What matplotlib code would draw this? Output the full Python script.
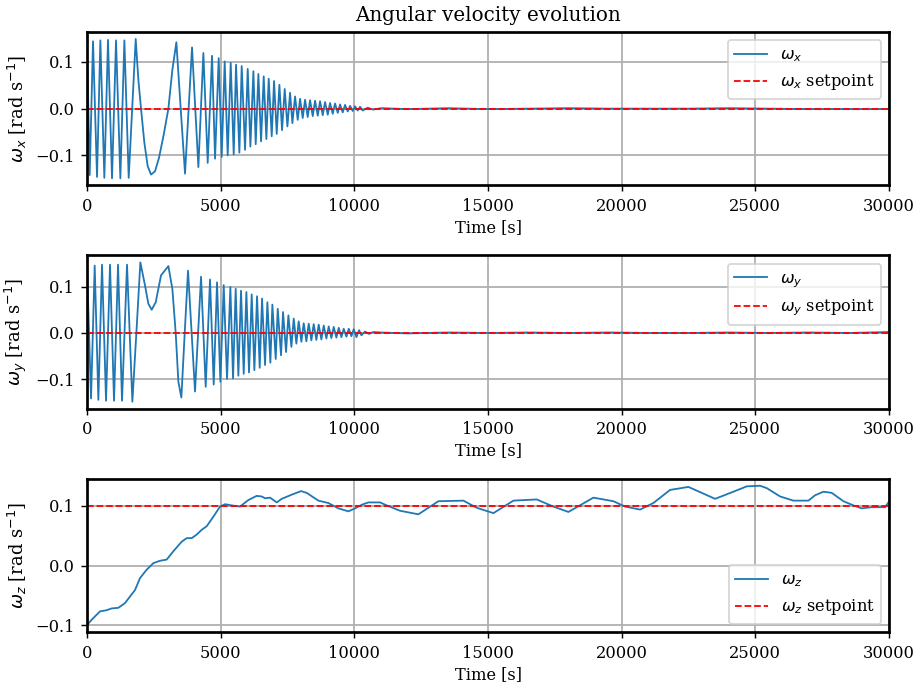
#!/usr/bin/env python3

import matplotlib
matplotlib.use("Agg")
import matplotlib.pyplot as plt

plt.rcParams['font.family'] = ['DejaVu Serif']
plt.rcParams['font.size'] = 9

# omega_x (peaks / troughs / a few shape points)
wx_t = [0, 100, 224, 374, 499, 648, 785, 935, 1085, 1247, 1397, 1559, 1821,
        1920, 2020, 2145, 2269, 2394, 2544, 2693, 2868, 3043, 3192, 3342,
        3504, 3666, 3928, 4165, 4352, 4514, 4676, 4789, 4925, 5038, 5150,
        5262, 5375, 5487, 5574, 5699, 5786, 5911, 6011, 6111, 6223, 6310,
        6410, 6510, 6609, 6709, 6796, 6909, 6996, 7096, 7196, 7295, 7395,
        7495, 7595, 7682, 7782, 7881, 7969, 8068, 8156, 8255, 8343, 8443,
        8530, 8630, 8717, 8817, 8904, 9004, 9091, 9191, 9278, 9378, 9465,
        9565, 9652, 9752, 9839, 9939, 10026, 10126, 10213, 10313, 10500,
        10700, 11000, 12000, 13500, 15000, 16500, 18000, 19500, 21000,
        22500, 24000, 25500, 27000, 28500, 30000]
wx_v = [0.140, -0.142, 0.144, -0.146, 0.146, -0.148, 0.147, -0.149, 0.146,
        -0.149, 0.146, -0.148, 0.149,
        0.062, 0.0, -0.073, -0.123, -0.141, -0.134, -0.105, -0.056, 0.0,
        0.083, 0.142, 0.0, -0.139, 0.131, -0.125, 0.119, -0.116, 0.113,
        -0.107, 0.108, -0.103, 0.101, -0.100, 0.098, -0.098, 0.094, -0.094,
        0.091, -0.088, 0.085, -0.081, 0.080, -0.076, 0.074, -0.070, 0.069,
        -0.065, 0.064, -0.059, 0.059, -0.054, 0.051, -0.046, 0.042, -0.038,
        0.034, -0.031, 0.026, -0.024, 0.021, -0.020, 0.019, -0.018, 0.018,
        -0.016, 0.017, -0.015, 0.016, -0.014, 0.014, -0.013, 0.012, -0.011,
        0.011, -0.009, 0.009, -0.008, 0.008, -0.006, 0.006, -0.005, 0.005,
        -0.004, 0.004, -0.004, 0.002, -0.002, 0.001, -0.001, 0.001, -0.001,
        0.0, 0.001, 0.0, 0.0, 0.0, 0.001, 0.0, -0.001, -0.001, -0.001]

# omega_y
wy_t = [0, 150, 287, 424, 561, 711, 860, 1010, 1160, 1309, 1496, 1696, 1846,
        1995, 2170, 2294, 2419, 2569, 2768, 3043, 3192, 3317, 3417, 3529,
        3654, 3778, 4040, 4265, 4439, 4601, 4739, 4863, 4988, 5113, 5237,
        5362, 5462, 5561, 5661, 5761, 5861, 5961, 6060, 6160, 6260, 6360,
        6459, 6547, 6659, 6746, 6858, 6933, 7058, 7133, 7257, 7332, 7445,
        7532, 7644, 7732, 7831, 7918, 8018, 8105, 8205, 8292, 8392, 8479,
        8579, 8666, 8766, 8854, 8953, 9041, 9140, 9228, 9327, 9415, 9515,
        9602, 9702, 9789, 9889, 9976, 10076, 10176, 10263, 10400, 10550,
        10700, 11000, 12000, 13500, 15000, 16500, 18000, 19500, 21000,
        22500, 24000, 25500, 27000, 28500, 30000]
wy_v = [0.141, -0.141, 0.145, -0.144, 0.147, -0.146, 0.147, -0.146, 0.147,
        -0.146, 0.147, -0.148, 0.0, 0.152, 0.102, 0.063, 0.050, 0.066, 0.124,
        0.144, 0.095, 0.0, -0.105, -0.139, 0.0, 0.134, -0.126, 0.121, -0.116,
        0.115, -0.111, 0.109, -0.105, 0.103, -0.099, 0.099, -0.098, 0.095,
        -0.092, 0.091, -0.088, 0.088, -0.085, 0.083, -0.080, 0.079, -0.075,
        0.074, -0.069, 0.066, -0.064, 0.061, -0.056, 0.052, -0.048, 0.045,
        -0.041, 0.038, -0.030, 0.031, -0.023, 0.025, -0.019, 0.021, -0.018,
        0.020, -0.016, 0.019, -0.015, 0.018, -0.014, 0.016, -0.012, 0.014,
        -0.011, 0.013, -0.010, 0.011, -0.009, 0.009, -0.008, 0.009, -0.007,
        0.008, -0.009, 0.006, -0.005, 0.003, -0.002, 0.002, 0.001, -0.001,
        0.001, 0.0, 0.001, 0.0, 0.001, 0.0, 0.0, 0.001, 0.0, 0.001, 0.0,
        0.002]

# omega_z
wz_t = [0, 174, 486, 736, 923, 1172, 1422, 1609, 1796, 1983, 2232, 2481,
        2731, 2980, 3230, 3541, 3728, 3916, 4103, 4290, 4477, 4726, 4975,
        5162, 5412, 5723, 6036, 6347, 6534, 6659, 6846, 7095, 7282, 7657,
        8006, 8218, 8654, 9028, 9403, 9777, 10026, 10275, 10525, 10961,
        11210, 11709, 12395, 13143, 14079, 14577, 15201, 15949, 16822,
        17445, 18007, 18942, 19690, 20126, 20688, 21186, 21810, 22496,
        22995, 23494, 24179, 24678, 25177, 25426, 25925, 26424, 26985,
        27234, 27546, 27858, 28294, 28668, 28980, 29355, 29854, 29978]
wz_v = [-0.100, -0.091, -0.077, -0.075, -0.072, -0.071, -0.063, -0.052,
        -0.041, -0.021, -0.007, 0.004, 0.008, 0.010, 0.024, 0.040, 0.046,
        0.046, 0.052, 0.060, 0.066, 0.082, 0.099, 0.103, 0.101, 0.099, 0.110,
        0.117, 0.116, 0.113, 0.114, 0.106, 0.112, 0.119, 0.125, 0.122, 0.109,
        0.105, 0.096, 0.091, 0.096, 0.102, 0.106, 0.106, 0.101, 0.092, 0.086,
        0.108, 0.109, 0.097, 0.088, 0.109, 0.111, 0.099, 0.090, 0.114, 0.108,
        0.099, 0.094, 0.105, 0.127, 0.132, 0.122, 0.112, 0.124, 0.133, 0.134,
        0.130, 0.116, 0.109, 0.109, 0.118, 0.124, 0.122, 0.108, 0.101, 0.096,
        0.098, 0.098, 0.106]

sp_t = [0, 30000]
sp_x = [0.0, 0.0]
sp_y = [0.0, 0.0]
sp_z = [0.1, 0.1]


def main():
    fig, axes = plt.subplots(3, 1, figsize=(917 / 130, 687 / 130), dpi=130)
    fig.subplots_adjust(left=0.0949, right=0.9695, top=0.9534, bottom=0.080,
                        hspace=0.4575)

    series = [('x', wx_t, wx_v, sp_x, 'upper right'),
              ('y', wy_t, wy_v, sp_y, 'upper right'),
              ('z', wz_t, wz_v, sp_z, 'lower right')]

    for ax, (name, t, v, sp, loc) in zip(axes, series):
        ax.plot(t, v, color='#1f77b4', lw=1.0, label=r'$\omega_%s$' % name)
        ax.plot(sp_t, sp, color='red', ls='--', lw=1.0,
                label=r'$\omega_%s$ setpoint' % name)
        ax.set_xlim(0, 30000)
        ax.set_yticks([-0.1, 0.0, 0.1])
        ax.set_xlabel('Time [s]')
        ax.set_ylabel(r'$\omega_%s$ [rad s$^{-1}$]' % name, fontsize=10)
        ax.xaxis.set_label_coords(0.5, -0.221)
        ax.yaxis.set_label_coords(-0.0723, 0.5)
        ax.grid(True, color='#b0b0b0', lw=1.0)
        for s in ax.spines.values():
            s.set_linewidth(1.5)
        ax.legend(loc=loc, fontsize=9)

    axes[0].set_title('Angular velocity evolution', fontsize=11)

    fig.savefig('out.png', dpi=130)


if __name__ == "__main__":
    main()
